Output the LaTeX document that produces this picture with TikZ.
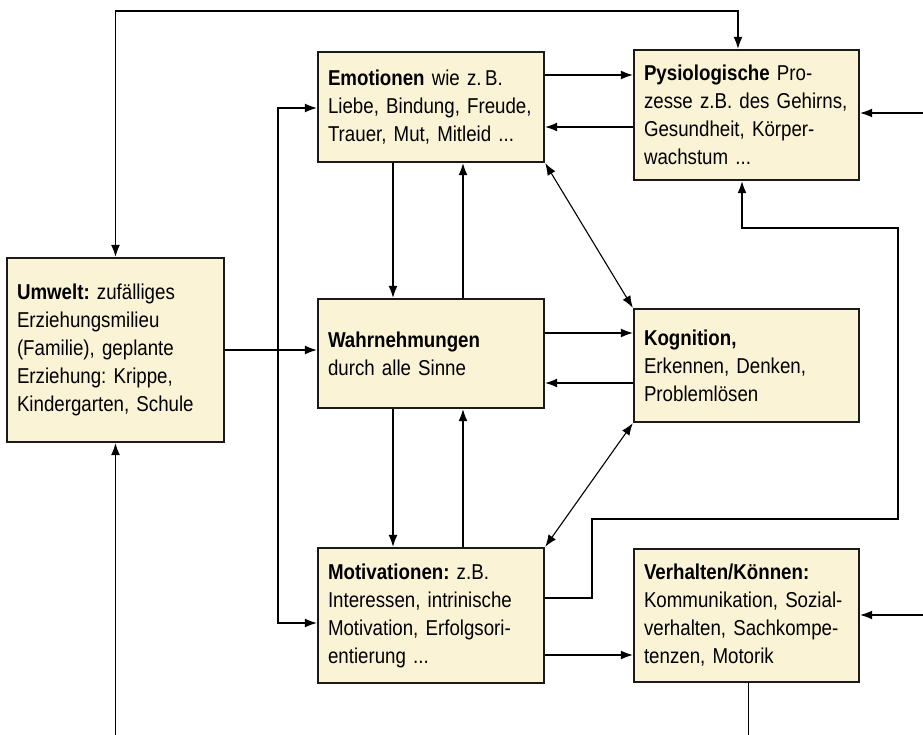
\documentclass[tikz,border=0pt]{standalone}
\usepackage{fontspec}
\setmainfont[FakeStretch=0.87, WordSpace=0.8]{Liberation Sans}
\usepackage{tikz}
\usetikzlibrary{arrows.meta}
\definecolor{boxcream}{HTML}{FBF3D5}
\definecolor{boxline}{HTML}{1A1A1A}
\frenchspacing

\begin{document}
\begin{tikzpicture}[x=1pt, y=-1pt,
    box/.style={draw=boxline, line width=2.4pt, fill=boxcream, align=left,
                inner xsep=10pt, inner ysep=4pt, text width=206pt,
                font=\fontsize{21.5}{28}\selectfont},
    conn/.style={line width=1.1pt, -{Latex[length=12pt,width=9pt]}},
    conn2/.style={line width=1.1pt, {Latex[length=12pt,width=9pt]}-{Latex[length=12pt,width=9pt]}}]
  \useasboundingbox (0,0) rectangle (923,735);

  % boxes
  \node[box, text width=197pt, minimum height=184pt] (umwelt) at (115.5,350) {%
    \textbf{Umwelt:} zufälliges\\Erziehungsmilieu\\(Familie), geplante\\%
    Erziehung: Krippe,\\Kindergarten, Schule};
  \node[box, minimum height=110pt] (emo) at (431,107) {%
    \textbf{Emotionen} wie z.\,B.\\Liebe, Bindung, Freude,\\Trauer, Mut, Mitleid ...};
  \node[box, text width=205pt, minimum height=130pt] (phys) at (746.5,115) {%
    \textbf{Pysiologische} Pro-\\zesse z.B. des Gehirns,\\Gesundheit, Körper-\\wachstum ...};
  \node[box, minimum height=109pt] (wahr) at (431,353.5) {%
    \textbf{Wahrnehmungen}\\durch alle Sinne};
  \node[box, text width=205pt, minimum height=113pt] (kog) at (746.5,365.5) {%
    \textbf{Kognition,}\\Erkennen, Denken,\\Problemlösen};
  \node[box, minimum height=135pt] (mot) at (431,615.5) {%
    \textbf{Motivationen:} z.B.\\Interessen, intrinische\\Motivation, Erfolgsori-\\entierung ...};
  \node[box, text width=205pt, minimum height=133pt] (verh) at (746.5,615.5) {%
    \textbf{Verhalten/Können:}\\Kommunikation, Sozial-\\verhalten, Sachkompe-\\tenzen, Motorik};

  % free ends
  \coordinate (ubot) at (117,735);
  \coordinate (vbot) at (748,735);
  \coordinate (pin) at (923,113);
  \coordinate (vin) at (923,615);

  % outer loops
  \draw[conn2] (umwelt.north) |- (738,11) -- (phys.north -| 738,0);
  \draw[conn] (umwelt.south |- ubot) -- (umwelt.south);
  \draw[conn] (umwelt.east) -- (umwelt.east -| wahr.west);
  \draw[conn2] (emo.west |- 0,108) -- (278,108) |- (mot.west |- 0,623);
  \draw[conn] (pin) -- (phys.east |- pin);
  \draw[conn] (vin) -- (verh.east |- vin);
  \draw (verh.south -| vbot) -- (vbot);
  \draw[conn] (mot.east |- 0,598) -- (592,598) |- (898,519) |- (742,228) -- (phys.south -| 742,0);

  % middle column
  \draw[conn] (emo.south -| 393,0) -- (wahr.north -| 393,0);
  \draw[conn] (wahr.north -| 463,0) -- (emo.south -| 463,0);
  \draw[conn] (wahr.south -| 393,0) -- (mot.north -| 393,0);
  \draw[conn] (mot.north -| 463,0) -- (wahr.south -| 463,0);

  % right column
  \draw[conn] (emo.east |- 0,75) -- (phys.west |- 0,75);
  \draw[conn] (phys.west |- 0,127) -- (emo.east |- 0,127);
  \draw[conn] (wahr.east |- 0,333) -- (kog.west |- 0,333);
  \draw[conn] (kog.west |- 0,383) -- (wahr.east |- 0,383);
  \draw[conn2] (emo.south east) -- (kog.north west);
  \draw[conn2] (mot.north east) -- (kog.south west);
  \draw[conn] (mot.east |- 0,655) -- (verh.west |- 0,655);
\end{tikzpicture}
\end{document}
